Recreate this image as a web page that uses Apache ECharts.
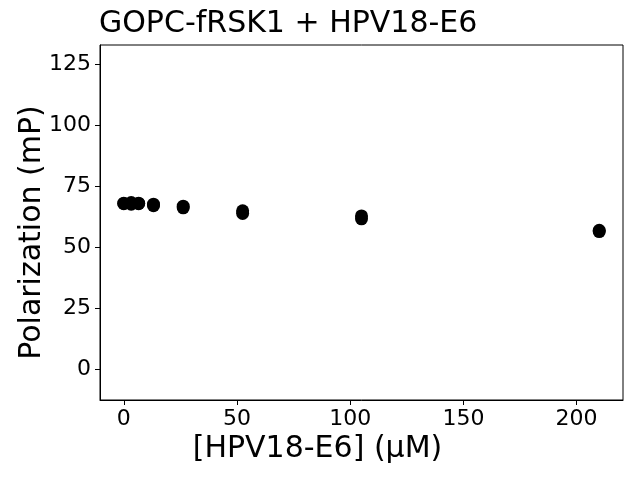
<!DOCTYPE html>
<html><head><meta charset="utf-8">
<script src="https://cdn.jsdelivr.net/npm/echarts@6/dist/echarts.min.js"></script>
<style>html,body{margin:0;padding:0;background:#fff}#c{width:640px;height:480px}</style>
</head><body><div id="c"></div>
<script>
const concentrations = [0, 3.28125, 6.5625, 13.125, 26.25, 52.5, 105, 210];
const replicate1 = [67.8, 68.3, 68.0, 67.0, 66.1, 63.8, 61.6, 56.4];
const replicate2 = [68.0, 67.6, 67.8, 67.6, 66.8, 64.9, 62.8, 56.9];
const xTicks = [0, 50, 100, 150, 200];
const yTicks = [0, 25, 50, 75, 100, 125];
const titleText = 'GOPC-fRSK1 + HPV18-E6';
const xName = '[HPV18-E6] (μM)';
const yName = 'Polarization (mP)';

const font = 'DejaVu Sans';
const pts = [];
concentrations.forEach((x, i) => { pts.push([x, replicate1[i]]); pts.push([x, replicate2[i]]); });

const chart = echarts.init(document.getElementById('c'), null, {renderer: 'canvas'});
chart.setOption({
  animation: false,
  backgroundColor: '#fff',
  title: {text: titleText, left: 99, top: 9, padding: 0,
    textStyle: {fontFamily: font, fontSize: 30, fontWeight: 'normal', color: '#000'}},
  grid: {left: 100, right: 17, top: 45, bottom: 80, show: true, borderColor: '#000', borderWidth: 1, backgroundColor: 'transparent'},
  xAxis: {type: 'value', min: -10.5, max: 220.5,
    name: xName, nameLocation: 'middle', nameGap: 34, nameMoveOverlap: false,
    nameTextStyle: {fontFamily: font, fontSize: 30, color: '#000', padding: [0, 88, 0, 0]},
    splitLine: {show: false},
    axisLine: {show: true, onZero: false, lineStyle: {color: '#000', width: 1}},
    axisTick: {show: true, length: 5, lineStyle: {color: '#000'}, customValues: xTicks},
    axisLabel: {fontFamily: font, fontSize: 22, color: '#000', margin: 8, customValues: xTicks}},
  yAxis: {type: 'value', min: -12.6, max: 132.8,
    name: yName, nameLocation: 'middle', nameGap: 53, nameMoveOverlap: false,
    nameTextStyle: {fontFamily: font, fontSize: 30, color: '#000', padding: [0, 20, 0, 0]},
    splitLine: {show: false},
    axisLine: {show: true, onZero: false, lineStyle: {color: '#000', width: 1}},
    axisTick: {show: true, length: 5, lineStyle: {color: '#000'}, customValues: yTicks},
    axisLabel: {fontFamily: font, fontSize: 22, color: '#000', margin: 9, customValues: yTicks}},
  series: [{type: 'scatter', data: pts, symbol: 'circle', symbolSize: 13,
    itemStyle: {color: '#000', opacity: 1}}]
});
</script></body></html>
